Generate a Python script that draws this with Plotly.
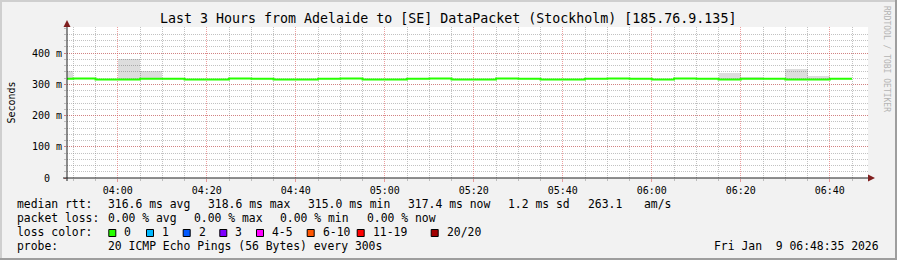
import plotly.graph_objects as go

DAY = "2026-01-09 "

# ---- data ----
step_start = ["03:45", "03:50", "03:55", "04:00", "04:05", "04:10", "04:15", "04:20",
              "04:25", "04:30", "04:35", "04:40", "04:45", "04:50", "04:55", "05:00",
              "05:05", "05:10", "05:15", "05:20", "05:25", "05:30", "05:35", "05:40",
              "05:45", "05:50", "05:55", "06:00", "06:05", "06:10", "06:15", "06:20",
              "06:25", "06:30", "06:35", "06:40"]
last_step_end = "06:45"
median_ms = [318.0, 318.2, 315.4, 315.2, 318.0, 317.8, 315.3, 315.5,
             318.1, 317.9, 315.2, 315.4, 318.0, 318.3, 315.5, 315.1,
             317.9, 318.1, 315.3, 315.2, 318.2, 317.8, 315.4, 315.0,
             318.0, 318.6, 317.9, 315.5, 318.1, 317.7, 315.3, 318.0,
             317.9, 315.4, 315.2, 317.4]
smoke_top_ms = [342, None, None, 381, 342, None, None, None,
                None, None, None, None, None, None, None, None,
                None, None, None, None, None, None, None, None,
                None, None, None, None, None, None, 337, 322,
                None, 349, 326, None]
y_tick_vals = [0, 100, 200, 300, 400]
y_tick_text = ["0\u00a0\u00a0", "100 m", "200 m", "300 m", "400 m"]
x_range = ["03:48:35", "06:48:35"]

title = "Last 3 Hours from Adelaide to [SE] DataPacket (Stockholm) [185.76.9.135]"
line_rtt = [("median rtt:", 16), ("316.6 ms avg", 107.3), ("318.6 ms max", 207.3),
            ("315.0 ms min", 307.3), ("317.4 ms now", 407.3), ("1.2 ms sd", 507.3),
            ("263.1", 586.7), ("am/s", 642.7)]
line_loss = [("packet loss:", 16), ("0.00 % avg", 107.3), ("0.00 % max", 193.3),
             ("0.00 % min", 279.3), ("0.00 % now", 365.7)]
loss_labels = ["0", "1", "2", "3", "4-5", "6-10", "11-19", "20/20"]
loss_colors = ["#26ff00", "#00b8ff", "#0059ff", "#7e00ff", "#ff00ff", "#ff5500", "#ff0000", "#a10000"]
loss_box_x = [108.3, 146, 182.7, 219.3, 256, 306.7, 356.7, 430.7]
probe_text = "20 ICMP Echo Pings (56 Bytes) every 300s"
date_text = "Fri Jan  9 06:48:35 2026"

# ---- geometry helpers (pixel -> paper) ----
W, H = 897, 260
L, R, T, B = 67, 868, 27, 178
def px(x): return (x - L) / (R - L)
def py(y): return (B - y) / (B - T)

MONO = "DejaVu Sans Mono"
GRID = "rgba(143,143,143,0.55)"
MGRID = "rgba(222,79,79,0.55)"

fig = go.Figure()

# smoke
sx, sbase, sh = [], [], []
for t, m, s in zip(step_start, median_ms, smoke_top_ms):
    if s is not None:
        sx.append(DAY + t)
        sbase.append(m)
        sh.append(s - m)
fig.add_trace(go.Bar(x=sx, y=sh, base=sbase, width=300000, offset=0,
                     marker=dict(color="rgba(0,0,0,0.135)", line=dict(width=0)),
                     hoverinfo="skip"))

# median line
fig.add_trace(go.Scatter(x=[DAY + t for t in step_start] + [DAY + last_step_end],
                         y=median_ms + [median_ms[-1]],
                         mode="lines", line=dict(color="#26ff00", width=2, shape="hv"),
                         hoverinfo="skip"))

fig.update_layout(
    width=W, height=H, margin=dict(l=L, r=W - R, t=T, b=H - B, pad=0),
    paper_bgcolor="#f2f2f2", plot_bgcolor="#ffffff", showlegend=False, bargap=0,
    xaxis=dict(type="date", range=[DAY + x_range[0], DAY + x_range[1]],
               tick0=DAY + "04:00", dtick=20 * 60 * 1000, tickformat="%H:%M",
               showgrid=True, gridcolor=MGRID, griddash="1px,1px", gridwidth=1,
               ticks="outside", ticklen=3, tickcolor=MGRID,
               minor=dict(tick0=DAY + "04:00", dtick=5 * 60 * 1000, showgrid=True,
                          gridcolor=GRID, griddash="1px,1px", ticks="outside",
                          ticklen=2, tickcolor=GRID),
               zeroline=False, showline=False, fixedrange=True,
               tickfont=dict(family=MONO, size=10, color="#000")),
    yaxis=dict(range=[0, 483.2], tickvals=y_tick_vals, ticktext=y_tick_text,
               showgrid=True, gridcolor=MGRID, griddash="1px,1px", gridwidth=1,
               ticks="outside", ticklen=2, tickcolor=MGRID,
               minor=dict(dtick=20, showgrid=True, gridcolor=GRID, griddash="1px,1px",
                          ticks="outside", ticklen=2, tickcolor=GRID),
               zeroline=False, showline=False, fixedrange=True,
               tickfont=dict(family=MONO, size=10, color="#000")),
)

shapes = []
# frame
shapes.append(dict(type="line", xref="paper", yref="paper", x0=px(0), x1=px(W), y0=py(1), y1=py(1), line=dict(color="#cfcfcf", width=2)))
shapes.append(dict(type="line", xref="paper", yref="paper", x0=px(1), x1=px(1), y0=py(0), y1=py(H), line=dict(color="#cfcfcf", width=2)))
shapes.append(dict(type="line", xref="paper", yref="paper", x0=px(0), x1=px(W), y0=py(H - 1), y1=py(H - 1), line=dict(color="#9e9e9e", width=2)))
shapes.append(dict(type="line", xref="paper", yref="paper", x0=px(W - 1), x1=px(W - 1), y0=py(0), y1=py(H), line=dict(color="#9e9e9e", width=2)))
# axes
shapes.append(dict(type="line", xref="paper", yref="paper", x0=px(67), x1=px(67), y0=py(181), y1=py(24), line=dict(color="#1f1f1f", width=1)))
shapes.append(dict(type="line", xref="paper", yref="paper", x0=px(63), x1=px(869), y0=py(178), y1=py(178), line=dict(color="#1f1f1f", width=1)))
shapes.append(dict(type="path", xref="paper", yref="paper",
                   path=f"M {px(63.5)} {py(27)} L {px(70.5)} {py(27)} L {px(67)} {py(20)} Z",
                   fillcolor="#801f1f", line=dict(width=0)))
shapes.append(dict(type="path", xref="paper", yref="paper",
                   path=f"M {px(868)} {py(174.5)} L {px(868)} {py(181.5)} L {px(875)} {py(178)} Z",
                   fillcolor="#801f1f", line=dict(width=0)))
# loss colour boxes
for bx, c in zip(loss_box_x, loss_colors):
    shapes.append(dict(type="rect", xref="paper", yref="paper",
                       x0=px(bx + 0.5), x1=px(bx + 7.5), y0=py(236.5), y1=py(229.5),
                       fillcolor=c, line=dict(color="#000", width=1)))
fig.update_layout(shapes=shapes)

ann = []
def txt(s, x, y, size=11.4, anchor="left", color="#000", angle=0):
    ann.append(dict(text=s, xref="paper", yref="paper", x=px(x), y=py(y),
                    xanchor=anchor, yanchor="middle", showarrow=False, borderpad=0,
                    textangle=angle, font=dict(family=MONO, size=size, color=color)))

txt(title, 447.5, 19, size=13.3, anchor="center")
txt("Seconds", 11, 102.5, size=10, anchor="center", angle=-90)
txt("RRDTOOL / TOBI OETIKER", 887, 59, size=8, anchor="center", color="#b4b4b4", angle=90)
for s, x in line_rtt:
    txt(s, x, 204.3)
for s, x in line_loss:
    txt(s, x, 218.3)
txt("loss color:", 16, 232.3)
for bx, lab in zip(loss_box_x, loss_labels):
    txt(lab, bx + 15, 232.3)
txt("probe:", 16, 246.3)
txt(probe_text, 107.3, 246.3)
txt(date_text, 880, 246.3, anchor="right")
fig.update_layout(annotations=ann)

fig.write_html("out.html", config={"displayModeBar": False})
